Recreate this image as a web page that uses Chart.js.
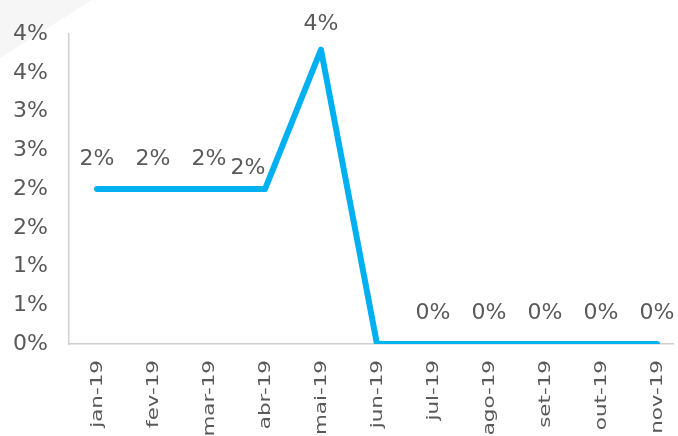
<!DOCTYPE html>
<html>
<head>
<meta charset="utf-8">
<script src="https://cdn.jsdelivr.net/npm/chart.js@4/dist/chart.umd.min.js"></script>
<style>
  html, body { margin: 0; padding: 0; background: #ffffff; overflow: hidden; }
  #wrap { width: 678px; height: 436px; position: relative; }
</style>
</head>
<body>
<div id="wrap"><canvas id="c" width="678" height="436"></canvas></div>
<script>
// ---- data ----
const categories = ['jan-19','fev-19','mar-19','abr-19','mai-19','jun-19','jul-19','ago-19','set-19','out-19','nov-19'];
const values = [2.0, 2.0, 2.0, 2.0, 3.8, 0, 0, 0, 0, 0, 0];
const showLabel = [true, true, true, true, true, false, true, true, true, true, true];
const yTicks = [0, 0.5, 1, 1.5, 2, 2.5, 3, 3.5, 4];

// label placement (style, not data)
const labelDx = [0, 0, 0, -17, 0, 0, 0, 0, 0, 0, 0];
const labelDy = [-30, -30, -30, -21, -25, 0, -31, -31, -31, -31, -31];

const FONT = '"DejaVu Sans", sans-serif';
const TEXT = '#595959';

const points = values.map((v, i) => ({ x: i, y: v }));

const bgShape = {
  id: 'bgShape',
  beforeDraw(chart) {
    const ctx = chart.ctx;
    ctx.save();
    ctx.fillStyle = '#ffffff';
    ctx.fillRect(0, 0, chart.width, chart.height);
    ctx.fillStyle = '#f6f6f6';
    ctx.beginPath();
    ctx.moveTo(0, 0); ctx.lineTo(92, 0); ctx.lineTo(0, 58); ctx.closePath();
    ctx.fill();
    ctx.restore();
  }
};

// x category labels, placed with the x scale, stretched along their length like the reference
const xLabels = {
  id: 'xLabels',
  afterDraw(chart) {
    const ctx = chart.ctx;
    const xs = chart.scales.x;
    ctx.save();
    ctx.font = '15px ' + FONT;
    ctx.fillStyle = TEXT;
    ctx.textAlign = 'right';
    ctx.textBaseline = 'middle';
    categories.forEach((c, i) => {
      const x = xs.getPixelForValue(i);
      ctx.save();
      ctx.translate(x + 1, xs.top + 16);
      ctx.scale(1, 1.43);
      ctx.rotate(-Math.PI / 2);
      ctx.fillText(c, 0, 0);
      ctx.restore();
    });
    ctx.restore();
  }
};

const dataLabels = {
  id: 'dataLabels',
  afterDatasetsDraw(chart) {
    const ctx = chart.ctx;
    const meta = chart.getDatasetMeta(0);
    ctx.save();
    ctx.font = '22px ' + FONT;
    ctx.fillStyle = TEXT;
    ctx.textAlign = 'center';
    ctx.textBaseline = 'middle';
    meta.data.forEach((pt, i) => {
      if (!showLabel[i]) return;
      ctx.fillText(Math.round(values[i]) + '%', pt.x + labelDx[i], pt.y + labelDy[i]);
    });
    ctx.restore();
  }
};

new Chart(document.getElementById('c'), {
  type: 'line',
  data: {
    datasets: [{
      data: points,
      borderColor: '#00B0F0',
      borderWidth: 6,
      pointRadius: 0,
      pointHoverRadius: 0,
      tension: 0,
      borderCapStyle: 'round',
      borderJoinStyle: 'round',
      fill: false
    }]
  },
  options: {
    responsive: false,
    animation: false,
    events: [],
    layout: { padding: { top: 33, right: 5, bottom: 0, left: 0 } },
    plugins: { legend: { display: false }, tooltip: { enabled: false } },
    scales: {
      x: {
        type: 'linear',
        min: -0.5,
        max: 10.286,
        afterFit(s) { s.height = 92; s.paddingLeft = 0; s.paddingRight = 0; },
        afterBuildTicks(s) { s.ticks = categories.map((c, i) => ({ value: i })); },
        grid: { display: false, drawTicks: false },
        border: { display: true, color: '#d0d0d0', width: 1.5 },
        ticks: { display: false }
      },
      y: {
        min: 0,
        max: 4,
        afterFit(s) { s.width = 69; },
        afterBuildTicks(s) { s.ticks = yTicks.map(v => ({ value: v })); },
        grid: { display: false, drawTicks: false },
        border: { display: true, color: '#d0d0d0', width: 1.5 },
        ticks: {
          padding: 21,
          color: TEXT,
          font: { family: FONT, size: 22 },
          callback: (v) => Math.round(v) + '%'
        }
      }
    }
  },
  plugins: [bgShape, dataLabels, xLabels]
});
</script>
</body>
</html>
